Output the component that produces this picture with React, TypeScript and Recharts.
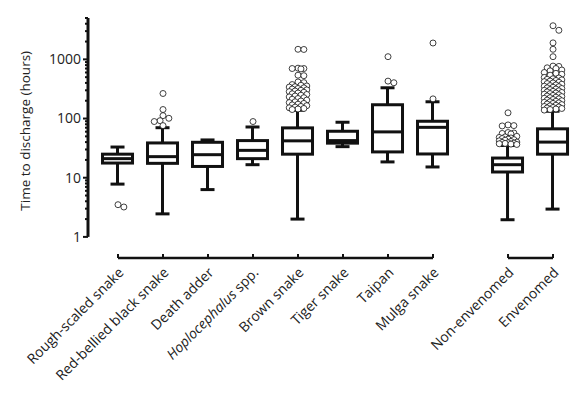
import React from "react";
import { ComposedChart, Bar, Scatter, XAxis, YAxis, ReferenceLine } from "recharts";

const categories = [
  "Rough-scaled snake",
  "Red-bellied black snake",
  "Death adder",
  "Hoplocephalus spp.",
  "Brown snake",
  "Tiger snake",
  "Taipan",
  "Mulga snake",
  "Non-envenomed",
  "Envenomed",
];

// box plot summaries (hours)
const whiskerLow = [7.8, 2.45, 6.3, 16.6, 2.0, 33.5, 18.5, 15.2, 1.95, 2.95];
const quartile1 = [17.7, 17.5, 15.5, 21, 25, 38.4, 27.3, 25.2, 12.5, 25];
const medians = [21, 22.7, 24.5, 29, 42, 42.4, 59.5, 71, 16.6, 40];
const quartile3 = [25, 38.7, 39.7, 42.4, 69.5, 61, 171, 90, 21.5, 67];
const whiskerHigh = [33, 70, 43.5, 72, 138, 86.6, 331, 192, 35, 133];

const outliers: number[][] = [
  [3.5, 3.2],
  [265, 142, 112, 101, 92, 89, 76],
  [],
  [89],
  [
    1480, 1470, 710, 700, 700, 690, 540, 530, 415, 405, 375, 365, 355, 345, 340, 330, 322, 315,
    305, 300, 292, 285, 278, 270, 262, 255, 248, 240, 232, 225, 218, 212, 205, 198, 192, 186, 180,
    175, 170, 165, 160, 156, 152, 148, 145, 142,
  ],
  [],
  [1110, 429, 403],
  [1890, 215],
  [
    125, 78, 76, 75, 58, 57, 56, 55, 50, 49, 48, 47, 46, 45, 44, 43, 42, 41, 40, 39.5, 39, 38.5,
    38, 37.5, 37, 36.5,
  ],
  [
    3700, 3100, 1900, 1480, 1110, 770, 760, 720, 700, 660, 640, 600, 580, 560, 540, 495, 485, 470,
    460, 450, 440, 430, 420, 410, 400, 390, 380, 370, 360, 352, 345, 338, 330, 322, 315, 308, 300,
    294, 288, 282, 276, 270, 264, 258, 252, 246, 240, 235, 230, 225, 220, 215, 210, 205, 200, 196,
    192, 188, 184, 180, 176, 172, 168, 164, 160, 157, 154, 151, 148, 145, 142, 139,
  ],
];

const yMajorTicks = [1, 10, 100, 1000];
const Y_MIN = 0.44; // room under "1" for the detached x axis
const Y_MAX = 5000;
const X_MIN = -0.667;
const X_MAX = 10.333;
const GROUP_GAP = 0.667;

const FONT = "'Open Sans', sans-serif";
const INK = "#111";

const xPositions = categories.map((_, i) => i + (i >= 8 ? GROUP_GAP : 0));

const yTicks: number[] = [];
yMajorTicks.forEach((d) => {
  for (let k = 1; k <= 9; k++) {
    const v = d * k;
    if (v <= Y_MAX) yTicks.push(v);
  }
});

const boxRows = categories.map((name, i) => ({
  name,
  x: xPositions[i],
  range: [whiskerLow[i], whiskerHigh[i]],
  q1: quartile1[i],
  median: medians[i],
  q3: quartile3[i],
}));

// spread outliers sideways (narrow, overlapping swarm like the original)
const PX_X = 45;
const PX_DEC = 59;
const swarm = (values: number[]) => {
  const placed: { dx: number; ly: number }[] = [];
  const step = 0.065;
  const sorted = [...values].sort((a, b) => b - a);
  return sorted.map((v) => {
    const ly = Math.log10(v);
    let best = 0;
    let bestDist = -1;
    const cands = [0];
    for (let s = 1; s <= 3; s++) cands.push(s * step, -s * step);
    for (const dx of cands) {
      let minD = Infinity;
      placed.forEach((p) => {
        const d = Math.hypot((p.dx - dx) * PX_X, (p.ly - ly) * PX_DEC);
        if (d < minD) minD = d;
      });
      if (minD >= 5.5) {
        best = dx;
        bestDist = minD;
        break;
      }
      if (minD > bestDist) {
        bestDist = minD;
        best = dx;
      }
    }
    placed.push({ dx: best, ly });
    return { dx: best, v };
  });
};

const outlierPoints = outliers.flatMap((vals, i) =>
  swarm(vals).map((p) => ({ px: xPositions[i] + p.dx, y: p.v }))
);

const BoxShape = (props: any) => {
  const { x, y, width, height, payload } = props;
  if (height == null || !payload) return null;
  const cx = x + width / 2;
  const top = y;
  const bottom = y + height;
  const lo = Math.log10(payload.range[0]);
  const hi = Math.log10(payload.range[1]);
  const toPx = (v: number) => bottom - ((Math.log10(v) - lo) / (hi - lo)) * (bottom - top);
  const q1 = toPx(payload.q1);
  const q3 = toPx(payload.q3);
  const med = toPx(payload.median);
  const cap = 7;
  return (
    <g stroke={INK} strokeWidth={3} fill="none">
      <line x1={cx} x2={cx} y1={top} y2={q3} />
      <line x1={cx} x2={cx} y1={q1} y2={bottom} />
      <line x1={cx - cap} x2={cx + cap} y1={top} y2={top} />
      <line x1={cx - cap} x2={cx + cap} y1={bottom} y2={bottom} />
      <rect x={x} y={q3} width={width} height={q1 - q3} fill="#fff" />
      <line x1={x} x2={x + width} y1={med} y2={med} />
    </g>
  );
};

const OutlierDot = (props: any) => {
  const { cx, cy } = props;
  return <circle cx={cx} cy={cy} r={3} fill="#fff" stroke={INK} strokeWidth={0.8} />;
};

const YTick = (props: any) => {
  const { x, y, payload } = props;
  const major = yMajorTicks.includes(payload.value);
  return (
    <g>
      <line x1={x} x2={x - (major ? 5 : 3)} y1={y} y2={y} stroke={INK} strokeWidth={2} />
      {major && (
        <text
          x={x - 7}
          y={y}
          dy="0.35em"
          textAnchor="end"
          fontFamily={FONT}
          fontSize={14}
          fill="#222"
        >
          {payload.value}
        </text>
      )}
    </g>
  );
};

const XTick = (props: any) => {
  const { x, y, payload } = props;
  const idx = xPositions.indexOf(payload.value);
  const name = categories[idx] ?? "";
  const tx = x + 3;
  const ty = y + 12;
  return (
    <g>
      <line x1={x} x2={x} y1={y} y2={y - 4} stroke={INK} strokeWidth={2} />
      <text
        x={tx}
        y={ty}
        dy="0.35em"
        textAnchor="end"
        transform={`rotate(-45, ${tx}, ${ty})`}
        fontFamily={FONT}
        fontSize={14}
        fill="#222"
      >
        {name.startsWith("Hoplocephalus") ? (
          <>
            <tspan fontStyle="italic">Hoplocephalus</tspan>
            <tspan> spp.</tspan>
          </>
        ) : (
          name
        )}
      </text>
    </g>
  );
};

const YLabel = (props: any) => {
  const { viewBox } = props;
  const lx = viewBox.x - 8;
  const ly = viewBox.y + viewBox.height * 0.47;
  return (
    <text
      x={lx}
      y={ly}
      textAnchor="middle"
      transform={`rotate(-90, ${lx}, ${ly})`}
      fontFamily={FONT}
      fontSize={13.5}
      fill="#222"
    >
      Time to discharge (hours)
    </text>
  );
};

export default function App() {
  return (
    <div style={{ width: 580, height: 389 }}>
      <ComposedChart
        width={580}
        height={389}
        data={boxRows}
        margin={{ top: 10, right: 5, left: 30, bottom: 9 }}
      >
        <XAxis
          dataKey="x"
          type="number"
          domain={[X_MIN, X_MAX]}
          allowDataOverflow
          ticks={xPositions}
          interval={0}
          tick={<XTick />}
          tickSize={0}
          tickMargin={0}
          axisLine={false}
          tickLine={false}
          height={130}
        />
        <XAxis
          xAxisId="pts"
          dataKey="px"
          type="number"
          domain={[X_MIN, X_MAX]}
          allowDataOverflow
          hide
        />
        <YAxis
          type="number"
          scale="log"
          domain={[Y_MIN, Y_MAX]}
          allowDataOverflow
          ticks={yTicks}
          interval={0}
          tick={<YTick />}
          tickSize={0}
          tickMargin={0}
          axisLine={false}
          tickLine={false}
          width={50}
          label={(p: any) => <YLabel {...p} />}
        />
        <ReferenceLine
          segment={[
            { x: X_MIN, y: 1 },
            { x: X_MIN, y: Y_MAX },
          ]}
          stroke={INK}
          strokeWidth={3}
          ifOverflow="visible"
        />
        <ReferenceLine
          segment={[
            { x: xPositions[0], y: Y_MIN },
            { x: xPositions[7], y: Y_MIN },
          ]}
          stroke={INK}
          strokeWidth={2.5}
          ifOverflow="visible"
        />
        <ReferenceLine
          segment={[
            { x: xPositions[8], y: Y_MIN },
            { x: xPositions[9], y: Y_MIN },
          ]}
          stroke={INK}
          strokeWidth={2.5}
          ifOverflow="visible"
        />
        <Scatter
          xAxisId="pts"
          data={outlierPoints}
          dataKey="y"
          shape={<OutlierDot />}
          isAnimationActive={false}
        />
        <Bar dataKey="range" barSize={30} shape={<BoxShape />} isAnimationActive={false} />
      </ComposedChart>
    </div>
  );
}
